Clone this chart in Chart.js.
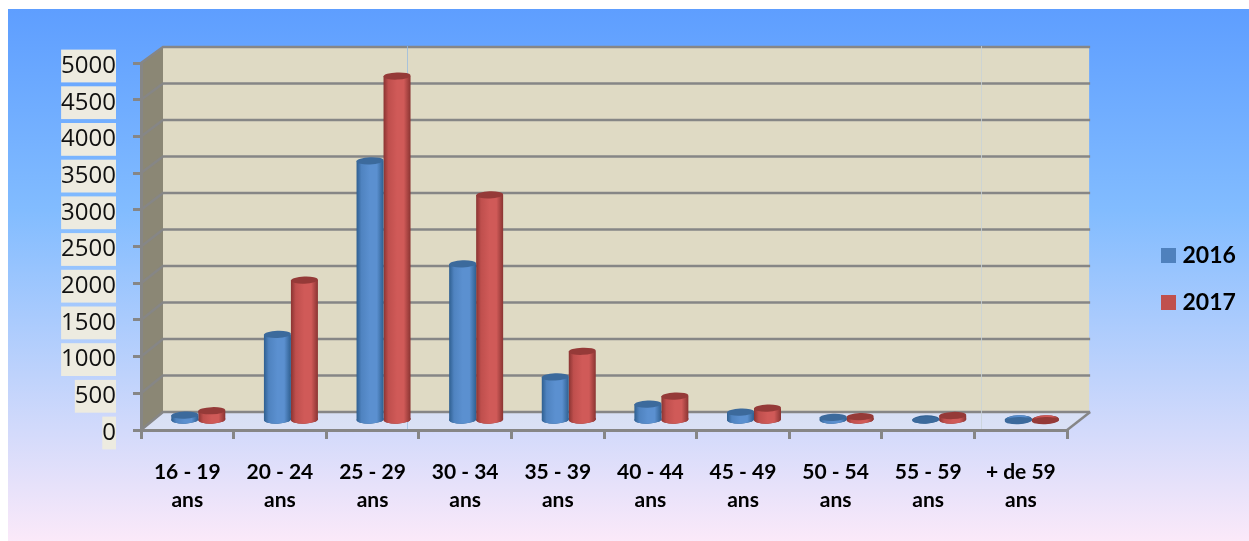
<!DOCTYPE html>
<html><head><meta charset="utf-8">
<style>html,body{margin:0;padding:0;background:#fff}canvas{display:block}</style>
<script src="https://cdn.jsdelivr.net/npm/chart.js@4"></script>
</head><body><canvas id="c" width="1249" height="541"></canvas>
<script>
const categories = [["16 - 19","ans"],["20 - 24","ans"],["25 - 29","ans"],["30 - 34","ans"],["35 - 39","ans"],["40 - 44","ans"],["45 - 49","ans"],["50 - 54","ans"],["55 - 59","ans"],["+ de 59","ans"]];
const values2016 = [80,1180,3545,2140,600,230,120,50,15,5];
const values2017 = [140,1920,4700,3080,950,340,175,60,75,5];
const seriesNames = ["2016","2017"];
const axisMax = 5000, axisStep = 500;
const BAR = [
  {edge:"#2f5f90",soft:"#4f83c0",mid:"#5b90d0",cap:"#3c6a9c",swatch:"#4f81bd"},
  {edge:"#8a3432",soft:"#bf4f4d",mid:"#d05a58",cap:"#953a38",swatch:"#c0504d"}
];
const GRID = "#868686";
const DX = 11, DY = -9;          // depth shift of the columns' plane
const CAT_PCT = 0.583;

function fillStops(g,s){
  g.addColorStop(0,s.edge); g.addColorStop(.18,s.soft); g.addColorStop(.5,s.mid);
  g.addColorStop(.75,s.mid); g.addColorStop(1,s.edge);
  return g;
}
function barGradient(ctx, ds){
  const chart = ctx.chart, x = chart.scales.x;
  if(!x || ctx.dataIndex === undefined) return BAR[ds].swatch;
  const w = (x.right - x.left)/categories.length*CAT_PCT/2;
  const c = x.getPixelForValue(ctx.dataIndex) + (ds===0?-w/2:w/2);
  return fillStops(chart.ctx.createLinearGradient(c-w/2,0,c+w/2,0),BAR[ds]);
}
function ellipseAt(c,x,y,rx,ry,fill){c.beginPath();c.ellipse(x,y,rx,ry,-0.04,0,Math.PI*2);c.fillStyle=fill;c.fill();}
function swatch(color){
  const s=document.createElement("canvas");s.width=15;s.height=15;
  const g=s.getContext("2d");g.fillStyle=color;g.fillRect(0,0,15,15);return s;
}

const scene = {
  id:"scene",
  afterLayout(chart){
    const l = chart.legend; const dy = 220 - l.top; l.top += dy; l.bottom += dy;
    const dx = 1142 - l.left; l.left += dx; l.right += dx;
  },
  beforeDraw(chart){
    const c = chart.ctx, {x,y} = chart.scales;
    const g = c.createLinearGradient(0,9,0,541);
    g.addColorStop(0,"#5e9eff"); g.addColorStop(.38,"#82bcff"); g.addColorStop(1,"#fbe9f9");
    c.fillStyle = g; c.fillRect(8,9,1241,532);
    const L=x.left,R=x.right,b=y.bottom,t=y.top;
    const bx=22, bBot=b-18, bTop=t-16;
    const backY = v => y.getPixelForValue(v) - 18 + 2*v/axisMax;
    // floor
    c.fillStyle="rgba(225,232,240,.55)";
    c.beginPath();c.moveTo(L,b);c.lineTo(L+bx,bBot);c.lineTo(R+bx,bBot);c.lineTo(R,b);c.closePath();c.fill();
    // side wall
    c.fillStyle="#8b8775";
    c.beginPath();c.moveTo(L,b);c.lineTo(L+bx,bBot);c.lineTo(L+bx,bTop);c.lineTo(L,t);c.closePath();c.fill();
    // back wall
    c.fillStyle="#dfdac4";c.fillRect(L+bx,bTop,R-L,bBot-bTop);
    // grid
    c.strokeStyle=GRID;c.lineWidth=2.5;
    for(const tk of y.ticks){
      const fy=y.getPixelForValue(tk.value), by=backY(tk.value);
      c.beginPath();c.moveTo(L,fy);c.lineTo(L+bx,by);c.lineTo(R+bx+1,by);c.stroke();
    }
    // right floor edge
    c.beginPath();c.moveTo(R,b);c.lineTo(R+bx+1,bBot);c.stroke();
    // faint vertical seams of the source picture
    c.strokeStyle="rgba(150,185,225,.75)";c.lineWidth=1;
    c.beginPath();c.moveTo(407.5,46);c.lineTo(407.5,432);c.stroke();
    c.strokeStyle="rgba(200,210,215,.8)";
    c.beginPath();c.moveTo(981.5,46);c.lineTo(981.5,432);c.stroke();
  },
  beforeDatasetsDraw(chart){chart.ctx.save();chart.ctx.translate(DX,DY);},
  afterDatasetsDraw(chart){chart.ctx.restore();},
  beforeDatasetDraw(chart,{index,meta}){
    for(const el of meta.data){
      ellipseAt(chart.ctx,el.x,el.base,el.width/2,4.2,BAR[index].edge);
    }
  },
  afterDatasetDraw(chart,{index,meta}){
    const c=chart.ctx;
    for(const el of meta.data){
      const w=el.width/2;
      if(Math.abs(el.base-el.y)>1){
        ellipseAt(c,el.x,el.base,w,4.2,fillStops(c.createLinearGradient(el.x-w,0,el.x+w,0),BAR[index]));
      }
      ellipseAt(c,el.x,el.y,w,3.6,BAR[index].cap);
    }
  }
};

new Chart(document.getElementById("c"),{
  type:"bar",
  data:{labels:categories,datasets:[
    {label:seriesNames[0],data:values2016,backgroundColor:ctx=>barGradient(ctx,0)},
    {label:seriesNames[1],data:values2017,backgroundColor:ctx=>barGradient(ctx,1)}
  ]},
  plugins:[scene],
  options:{
    responsive:false,animation:false,devicePixelRatio:1,events:[],
    layout:{padding:{left:0,right:78,top:63,bottom:0}},
    datasets:{bar:{categoryPercentage:CAT_PCT,barPercentage:1,clip:false,borderWidth:0}},
    plugins:{
      tooltip:{enabled:false},title:{display:false},
      legend:{position:"right",align:"start",labels:{
        usePointStyle:true,pointStyleWidth:5,boxHeight:15,padding:24,color:"#000",font:{family:"Lato",size:23,weight:"bold"},
        generateLabels:ch=>ch.data.datasets.map((d,i)=>({text:d.label,pointStyle:swatch(BAR[i].swatch),fillStyle:BAR[i].swatch,strokeStyle:BAR[i].swatch,lineWidth:0,datasetIndex:i,fontColor:"#000"}))
      }}
    },
    scales:{
      x:{
        afterFit(s){s.height=111;},
        grid:{drawOnChartArea:false,color:GRID,lineWidth:3,tickLength:9},
        border:{color:GRID,width:3},
        ticks:{color:"#000",maxRotation:0,autoSkip:false,padding:20,font:{family:"Lato",size:21,weight:"bold",lineHeight:1.3}}
      },
      y:{
        min:0,max:axisMax,
        afterFit(s){s.width=141;},
        grid:{drawOnChartArea:false,color:GRID,lineWidth:3,tickLength:8},
        border:{color:GRID,width:3},
        ticks:{stepSize:axisStep,color:"#111",padding:17,labelOffset:3,font:{family:"Open Sans",size:24},
          showLabelBackdrop:true,backdropColor:"#edebe0",backdropPadding:{x:0,y:2},
          callback:v=>String(v)}
      }
    }
  }
});
</script></body></html>
